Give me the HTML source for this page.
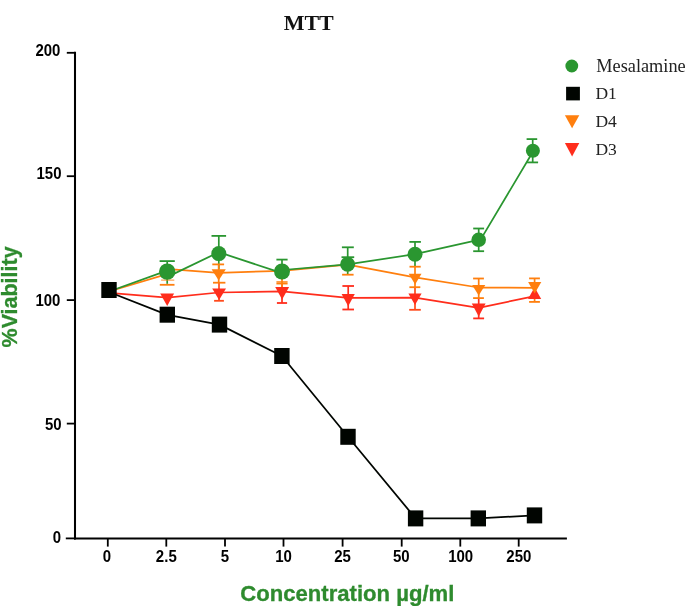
<!DOCTYPE html>
<html><head><meta charset="utf-8"><title>MTT</title>
<style>
html,body{margin:0;padding:0;background:#fff;}
body{width:685px;height:606px;overflow:hidden;font-family:"Liberation Sans",sans-serif;}
svg{display:block;will-change:transform;opacity:0.9999;}
</style></head><body>
<svg width="685" height="606" viewBox="0 0 685 606">
<rect width="685" height="606" fill="#fff"/>
<g stroke="#000" stroke-width="2.05" fill="none">
<line x1="75.0" y1="51.85" x2="75.0" y2="539.4"/>
<line x1="74.0" y1="538.4" x2="566.9" y2="538.4"/>
</g>
<g stroke="#000" stroke-width="1.8" fill="none">
<line x1="66.8" y1="52.8" x2="75.0" y2="52.8"/>
<line x1="66.8" y1="176.2" x2="75.0" y2="176.2"/>
<line x1="66.8" y1="300.1" x2="75.0" y2="300.1"/>
<line x1="66.8" y1="423.6" x2="75.0" y2="423.6"/>
<line x1="65.8" y1="538.4" x2="75.0" y2="538.4"/>
<line x1="107.8" y1="538.4" x2="107.8" y2="546.6"/>
<line x1="166.3" y1="538.4" x2="166.3" y2="546.6"/>
<line x1="225.0" y1="538.4" x2="225.0" y2="546.6"/>
<line x1="283.5" y1="538.4" x2="283.5" y2="546.6"/>
<line x1="342.6" y1="538.4" x2="342.6" y2="546.6"/>
<line x1="401.7" y1="538.4" x2="401.7" y2="546.6"/>
<line x1="460.3" y1="538.4" x2="460.3" y2="546.6"/>
<line x1="518.7" y1="538.4" x2="518.7" y2="546.6"/>
</g>
<g font-family="'Liberation Sans', sans-serif" font-weight="bold" font-size="15.8px" fill="#000">
<text transform="translate(60.4,55.6) scale(0.96,1)" text-anchor="end" font-size="15.6px">200</text>
<text transform="translate(61.5,179.4) scale(0.96,1)" text-anchor="end" font-size="15.6px">150</text>
<text transform="translate(60.4,306.2) scale(0.96,1)" text-anchor="end" font-size="15.6px">100</text>
<text transform="translate(61.6,430.0) scale(0.96,1)" text-anchor="end" font-size="15.6px">50</text>
<text transform="translate(61.1,542.5) scale(0.96,1)" text-anchor="end" font-size="15.6px">0</text>
<text transform="translate(107.0,562.2) scale(0.95,1)" text-anchor="middle" font-size="15.8px">0</text>
<text transform="translate(166.3,562.2) scale(0.95,1)" text-anchor="middle" font-size="15.8px">2.5</text>
<text transform="translate(224.9,562.2) scale(0.95,1)" text-anchor="middle" font-size="15.8px">5</text>
<text transform="translate(283.5,562.2) scale(0.95,1)" text-anchor="middle" font-size="15.8px">10</text>
<text transform="translate(342.5,562.2) scale(0.95,1)" text-anchor="middle" font-size="15.8px">25</text>
<text transform="translate(401.3,562.2) scale(0.95,1)" text-anchor="middle" font-size="15.8px">50</text>
<text transform="translate(460.7,562.2) scale(0.95,1)" text-anchor="middle" font-size="15.8px">100</text>
<text transform="translate(518.9,562.2) scale(0.95,1)" text-anchor="middle" font-size="15.8px">250</text>
</g>
<text x="308.7" y="29.8" text-anchor="middle" font-family="'Liberation Serif', serif" font-weight="bold" font-size="22px" fill="#111">MTT</text>
<text id="xt" x="347.3" y="600.7" stroke="#2e8b2e" stroke-width="0.3" text-anchor="middle" font-family="'Liberation Sans', sans-serif" font-weight="bold" font-size="21.4px" fill="#2e8b2e" textLength="214.2" lengthAdjust="spacingAndGlyphs">Concentration µg/ml</text>
<text id="yt" transform="translate(16.7,296.9) rotate(-90)" stroke="#2e8b2e" stroke-width="0.3" text-anchor="middle" font-family="'Liberation Sans', sans-serif" font-weight="bold" font-size="21.2px" fill="#2e8b2e" textLength="101.0" lengthAdjust="spacingAndGlyphs">%Viability</text>
<circle cx="571.8" cy="66.0" r="6.40" fill="#2a9630"/>
<rect x="566.1" y="86.8" width="13.8" height="13.6" fill="#000500"/>
<polygon points="564.9,115.2 579.3,115.2 572.1,128.2" fill="#ff7f0e"/>
<polygon points="564.9,143.1 579.3,143.1 572.1,156.5" fill="#ff2d1c"/>
<g font-family="'Liberation Serif', serif" font-size="18px" fill="#222">
<text x="596.3" y="71.8" textLength="89.4" lengthAdjust="spacingAndGlyphs">Mesalamine</text>
<text x="595.4" y="99.3" font-size="17.5px">D1</text>
<text x="595.4" y="127.2" font-size="17.5px">D4</text>
<text x="595.4" y="154.5" font-size="17.5px">D3</text>
</g>
<polyline fill="none" stroke="#ff2d1c" stroke-width="1.75" stroke-linejoin="round" points="109.0,292.9 167.3,297.7 219.0,292.5 282.0,291.4 348.2,297.8 415.0,297.6 478.7,307.8 534.7,296.2"/>
<polyline fill="none" stroke="#ff7f0e" stroke-width="1.75" stroke-linejoin="round" points="109.0,291.5 166.0,274.4 169.0,269.2 218.7,272.8 282.0,270.8 347.7,264.6 415.0,277.3 478.7,287.5 534.7,287.8"/>
<polyline fill="none" stroke="#2a9630" stroke-width="1.75" stroke-linejoin="round" points="109.0,291.5 166.4,270.9 168.0,276.6 218.8,252.2 281.4,272.9 282.6,270.0 347.7,264.3 415.0,254.2 478.7,239.8 480.6,239.6 533.5,150.8"/>
<polyline fill="none" stroke="#000500" stroke-width="1.75" stroke-linejoin="round" points="109.0,292.0 167.3,314.9 219.5,324.6 281.9,356.0 348.0,436.8 415.6,518.4 478.3,518.4 534.5,515.4"/>
<line x1="219.0" y1="282.7" x2="219.0" y2="300.8" stroke="#ff4a1c" stroke-width="1.70"/>
<line x1="214.1" y1="300.8" x2="223.9" y2="300.8" stroke="#ff4a1c" stroke-width="1.80"/>
<line x1="282.0" y1="283.0" x2="282.0" y2="303.0" stroke="#ff2d1c" stroke-width="1.70"/>
<line x1="276.9" y1="303.0" x2="287.1" y2="303.0" stroke="#ff2d1c" stroke-width="1.80"/>
<line x1="348.2" y1="286.0" x2="348.2" y2="309.5" stroke="#ff2d1c" stroke-width="1.70"/>
<line x1="342.4" y1="286.0" x2="354.0" y2="286.0" stroke="#ff2d1c" stroke-width="1.80"/>
<line x1="342.4" y1="309.5" x2="354.0" y2="309.5" stroke="#ff2d1c" stroke-width="1.80"/>
<line x1="415.0" y1="287.2" x2="415.0" y2="309.8" stroke="#ff4a1c" stroke-width="1.70"/>
<line x1="409.2" y1="309.8" x2="420.8" y2="309.8" stroke="#ff4a1c" stroke-width="1.80"/>
<line x1="478.7" y1="298.1" x2="478.7" y2="318.4" stroke="#ff2d1c" stroke-width="1.70"/>
<line x1="473.2" y1="318.4" x2="484.1" y2="318.4" stroke="#ff2d1c" stroke-width="1.80"/>
<line x1="167.2" y1="261.1" x2="167.2" y2="283.8" stroke="#2a9630" stroke-width="1.70"/>
<line x1="159.6" y1="261.1" x2="174.8" y2="261.1" stroke="#2a9630" stroke-width="1.80"/>
<line x1="218.8" y1="235.9" x2="218.8" y2="269.0" stroke="#2a9630" stroke-width="1.70"/>
<line x1="211.5" y1="235.9" x2="226.1" y2="235.9" stroke="#2a9630" stroke-width="1.80"/>
<line x1="282.0" y1="259.6" x2="282.0" y2="280.0" stroke="#2a9630" stroke-width="1.70"/>
<line x1="276.4" y1="259.6" x2="287.6" y2="259.6" stroke="#2a9630" stroke-width="1.80"/>
<line x1="347.7" y1="247.3" x2="347.7" y2="274.2" stroke="#2a9630" stroke-width="1.70"/>
<line x1="341.9" y1="247.3" x2="353.8" y2="247.3" stroke="#2a9630" stroke-width="1.80"/>
<line x1="341.5" y1="257.2" x2="354.2" y2="257.2" stroke="#2a9630" stroke-width="1.80"/>
<line x1="415.0" y1="241.9" x2="415.0" y2="266.5" stroke="#2a9630" stroke-width="1.70"/>
<line x1="409.4" y1="241.9" x2="420.9" y2="241.9" stroke="#2a9630" stroke-width="1.80"/>
<line x1="478.7" y1="228.5" x2="478.7" y2="251.2" stroke="#2a9630" stroke-width="1.70"/>
<line x1="473.2" y1="228.5" x2="484.1" y2="228.5" stroke="#2a9630" stroke-width="1.80"/>
<line x1="473.2" y1="251.2" x2="484.1" y2="251.2" stroke="#2a9630" stroke-width="1.80"/>
<line x1="532.7" y1="139.1" x2="532.7" y2="162.4" stroke="#2a9630" stroke-width="1.70"/>
<line x1="526.6" y1="139.1" x2="537.2" y2="139.1" stroke="#2a9630" stroke-width="1.80"/>
<line x1="527.1" y1="162.4" x2="538.1" y2="162.4" stroke="#2a9630" stroke-width="1.80"/>
<line x1="161.1" y1="280.1" x2="174.3" y2="280.1" stroke="#ff7f0e" stroke-width="0.90"/>
<line x1="159.8" y1="284.8" x2="174.5" y2="284.8" stroke="#ff7f0e" stroke-width="1.80"/>
<line x1="218.7" y1="264.4" x2="218.7" y2="282.7" stroke="#ff7f0e" stroke-width="1.70"/>
<line x1="212.3" y1="264.4" x2="224.1" y2="264.4" stroke="#ff7f0e" stroke-width="1.80"/>
<line x1="213.0" y1="282.7" x2="225.4" y2="282.7" stroke="#ff7f0e" stroke-width="1.80"/>
<line x1="282.0" y1="279.0" x2="282.0" y2="288.0" stroke="#ff7f0e" stroke-width="1.70"/>
<line x1="276.4" y1="282.0" x2="287.6" y2="282.0" stroke="#ff7f0e" stroke-width="1.50"/>
<line x1="276.4" y1="283.7" x2="287.6" y2="283.7" stroke="#ff7f0e" stroke-width="1.50"/>
<line x1="342.1" y1="274.7" x2="353.6" y2="274.7" stroke="#ff7f0e" stroke-width="1.80"/>
<line x1="415.0" y1="266.7" x2="415.0" y2="287.2" stroke="#ff7f0e" stroke-width="1.70"/>
<line x1="409.5" y1="266.7" x2="420.7" y2="266.7" stroke="#ff7f0e" stroke-width="1.80"/>
<line x1="409.4" y1="287.2" x2="420.3" y2="287.2" stroke="#ff7f0e" stroke-width="1.80"/>
<line x1="478.7" y1="278.5" x2="478.7" y2="298.1" stroke="#ff7f0e" stroke-width="1.70"/>
<line x1="473.1" y1="278.5" x2="483.9" y2="278.5" stroke="#ff7f0e" stroke-width="1.80"/>
<line x1="473.1" y1="298.1" x2="483.9" y2="298.1" stroke="#ff7f0e" stroke-width="1.80"/>
<line x1="534.6" y1="278.4" x2="534.6" y2="301.9" stroke="#ff7f0e" stroke-width="1.70"/>
<line x1="529.1" y1="278.4" x2="539.9" y2="278.4" stroke="#ff7f0e" stroke-width="1.80"/>
<line x1="529.1" y1="301.9" x2="539.9" y2="301.9" stroke="#ff7f0e" stroke-width="1.80"/>
<polygon points="160.2,293.5 174.1,293.5 167.2,306.1" fill="#ff2d1c"/>
<polygon points="212.2,288.5 226.0,288.5 219.1,300.1" fill="#ff2d1c"/>
<polygon points="275.2,287.0 289.1,287.0 282.1,299.6" fill="#ff2d1c"/>
<polygon points="341.6,294.0 354.8,294.0 348.2,306.2" fill="#ff2d1c"/>
<polygon points="408.4,293.5 421.6,293.5 415.0,304.9" fill="#ff2d1c"/>
<polygon points="471.8,303.4 485.6,303.4 478.7,316.6" fill="#ff2d1c"/>
<polygon points="528.0,298.9 541.2,298.9 534.6,287.3" fill="#ff2d1c"/>
<polygon points="160.2,267.9 174.1,267.9 167.2,280.1" fill="#ff7f0e"/>
<polygon points="211.6,269.2 225.8,269.2 218.7,280.6" fill="#ff7f0e"/>
<polygon points="275.1,266.9 288.9,266.9 282.0,279.1" fill="#ff7f0e"/>
<polygon points="340.8,261.1 354.6,261.1 347.7,272.3" fill="#ff7f0e"/>
<polygon points="408.7,273.8 421.5,273.8 415.1,284.4" fill="#ff7f0e"/>
<polygon points="472.1,285.0 485.3,285.0 478.7,295.6" fill="#ff7f0e"/>
<polygon points="528.1,281.9 541.3,281.9 534.7,293.5" fill="#ff7f0e"/>
<rect x="101.3" y="282.0" width="15.4" height="16.0" fill="#000500"/>
<rect x="159.6" y="306.7" width="15.4" height="16.0" fill="#000500"/>
<rect x="211.8" y="316.6" width="15.4" height="16.0" fill="#000500"/>
<rect x="274.2" y="348.0" width="15.4" height="16.0" fill="#000500"/>
<rect x="340.3" y="428.8" width="15.4" height="16.0" fill="#000500"/>
<rect x="407.9" y="510.4" width="15.4" height="16.0" fill="#000500"/>
<rect x="470.6" y="510.4" width="15.4" height="16.0" fill="#000500"/>
<rect x="526.8" y="507.4" width="15.4" height="16.0" fill="#000500"/>
<circle cx="167.2" cy="271.6" r="8.20" fill="#2a9630"/>
<circle cx="218.8" cy="253.6" r="7.50" fill="#2a9630"/>
<circle cx="282.0" cy="271.5" r="8.00" fill="#2a9630"/>
<circle cx="347.6" cy="264.3" r="7.50" fill="#2a9630"/>
<circle cx="415.0" cy="254.2" r="7.50" fill="#2a9630"/>
<circle cx="478.7" cy="239.8" r="7.30" fill="#2a9630"/>
<circle cx="532.9" cy="150.8" r="7.00" fill="#2a9630"/>
</svg>
</body></html>
